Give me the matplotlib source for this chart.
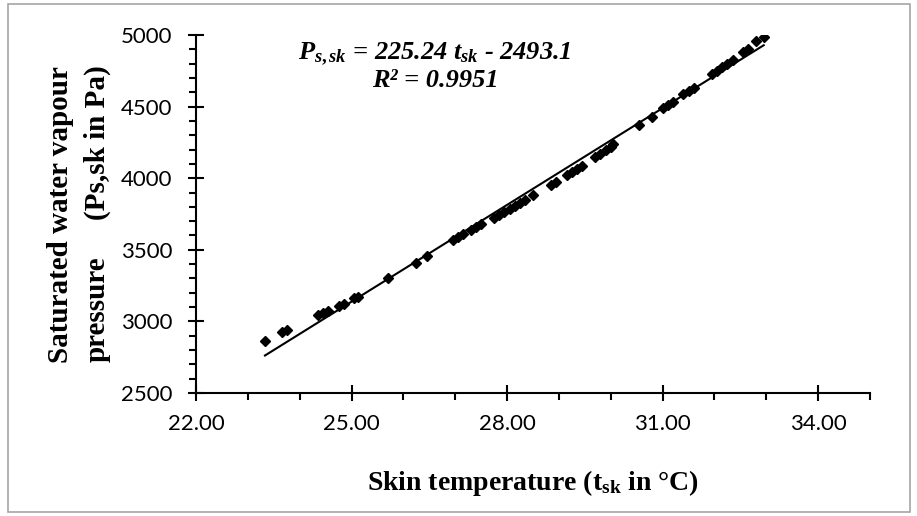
import numpy as np
import matplotlib
matplotlib.use("Agg")
import matplotlib.pyplot as plt
from matplotlib.ticker import FixedLocator, MultipleLocator, FormatStrFormatter
from matplotlib.patches import Rectangle

plt.rcParams['mathtext.fontset'] = 'custom'
plt.rcParams['mathtext.rm'] = 'Liberation Serif:bold'
plt.rcParams['mathtext.it'] = 'Liberation Serif:italic:bold'
plt.rcParams['mathtext.bf'] = 'Liberation Serif:bold'

# skin temperature (C) and saturated vapour pressure (Pa)
t_sk = [23.33, 23.65, 23.75, 24.35, 24.45, 24.55, 24.75, 24.85, 25.05, 25.12,
        25.70, 26.25, 26.45, 26.95, 27.05, 27.15, 27.30, 27.40, 27.50, 27.75,
        27.85, 27.95, 28.05, 28.15, 28.25, 28.35, 28.50, 28.85, 28.95, 29.15,
        29.25, 29.35, 29.45, 29.70, 29.80, 29.90, 30.00, 30.05, 30.55, 30.80,
        31.00, 31.10, 31.20, 31.40, 31.50, 31.60, 31.95, 32.05, 32.15, 32.25,
        32.35, 32.55, 32.65, 32.80, 32.95]
p_sk = [2865, 2925, 2940, 3045, 3060, 3075, 3110, 3125, 3160, 3172,
        3300, 3410, 3455, 3570, 3590, 3610, 3640, 3660, 3680, 3725,
        3745, 3765, 3785, 3805, 3830, 3850, 3880, 3955, 3975, 4020,
        4040, 4065, 4085, 4145, 4170, 4195, 4220, 4240, 4370, 4430,
        4490, 4510, 4535, 4585, 4610, 4630, 4725, 4750, 4775, 4800,
        4825, 4880, 4905, 4960, 4985]

x_ticks = [22, 25, 28, 31, 34]

slope = 225.24
intercept = -2493.1

fig = plt.figure(figsize=(9.17, 5.16), dpi=100)
W, H = 917, 516
ax = fig.add_axes([196 / W, 1 - 393 / H, (870 - 196) / W, (393 - 35) / H])

ax.plot(t_sk, p_sk, 'D', color='black', ms=5.5, zorder=3)
xl = np.array([min(t_sk), max(t_sk)])
ax.plot(xl, slope * xl + intercept, color='black', lw=1.5, zorder=2)

ax.set_xlim(22, 35)
ax.set_ylim(2500, 5000)
ax.xaxis.set_major_locator(FixedLocator(x_ticks))
ax.xaxis.set_minor_locator(MultipleLocator(1))
ax.xaxis.set_major_formatter(FormatStrFormatter('%.2f'))
ax.yaxis.set_major_locator(MultipleLocator(500))
ax.yaxis.set_minor_locator(MultipleLocator(100))

for s in ['top', 'right']:
    ax.spines[s].set_visible(False)
for s in ['left', 'bottom']:
    ax.spines[s].set_linewidth(1.5)

ax.tick_params(which='major', direction='inout', length=12, width=1.5)
ax.tick_params(which='minor', direction='out', length=5, width=1.5)
ax.tick_params(axis='x', which='major', pad=9)
ax.tick_params(axis='y', which='major', pad=11)
for lab in ax.get_xticklabels() + ax.get_yticklabels():
    lab.set_fontfamily('Lato')
    lab.set_fontsize(16)

serif = dict(family='Liberation Serif', weight='bold', size=21)
fig.text(61 / W, 1 - 215 / H, 'Saturated water vapour', rotation=90,
         ha='center', va='center', **serif)
fig.text(97 / W, 1 - 362 / H, 'pressure', rotation=90,
         ha='center', va='bottom', **serif)
fig.text(97 / W, 1 - 65 / H, '(Ps,sk in Pa)', rotation=90,
         ha='center', va='top', **serif)

fig.text(533 / W, 1 - 490 / H, r'Skin temperature (t$_{\mathrm{sk}}$ in °C)',
         ha='center', va='baseline', family='Liberation Serif',
         weight='bold', size=20)

eq = dict(family='Liberation Serif', weight='bold', style='italic', size=19)
fig.text(435 / W, 1 - 60 / H, r'$P_{s,sk}$ = 225.24 $t_{sk}$ - 2493.1',
         ha='center', va='baseline', **eq)
fig.text(435 / W, 1 - 87 / H, 'R² = 0.9951', ha='center', va='baseline', **eq)

fig.patches.append(Rectangle((8 / W, 4 / H), (910 - 8) / W, (512 - 4) / H,
                             transform=fig.transFigure, fill=False,
                             edgecolor='#a6a6a6', lw=1.2))

fig.savefig('out.png', dpi=100)
